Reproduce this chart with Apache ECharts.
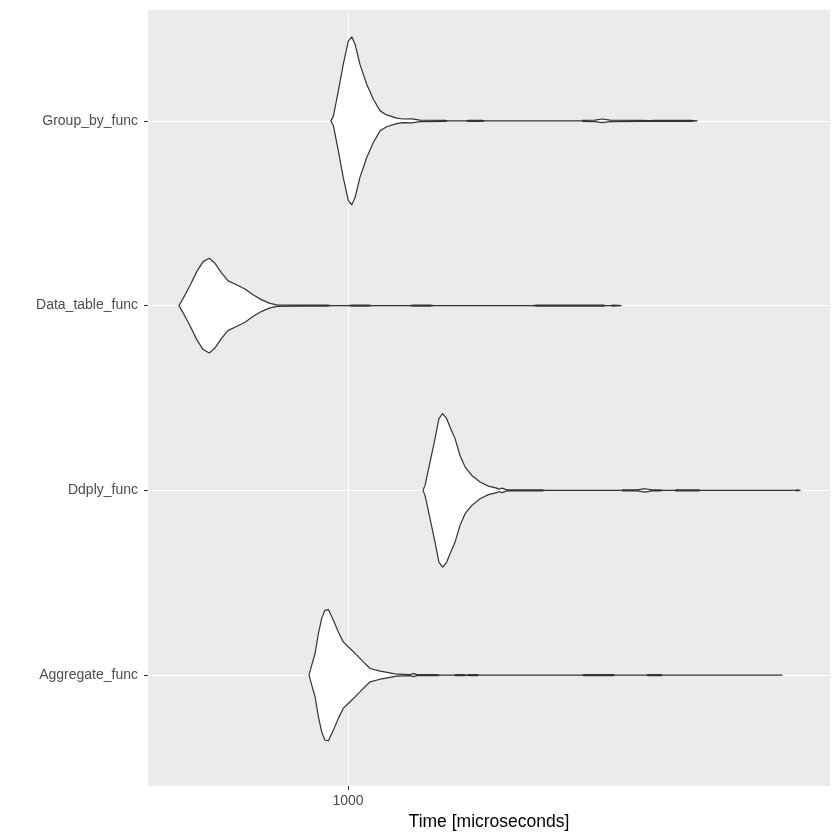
<!DOCTYPE html>
<html>
<head>
<meta charset="utf-8">
<script src="https://cdn.jsdelivr.net/npm/echarts@6/dist/echarts.min.js"></script>
<style>
  html, body { margin: 0; padding: 0; background: #fff; }
  #chart { width: 840px; height: 840px; }
</style>
</head>
<body>
<div id="chart"></div>
<script>
// categories, bottom to top (y = 1..4)
var funcNames = ['Aggregate_func', 'Ddply_func', 'Data_table_func', 'Group_by_func'];
var xTicks = [1000];

// violin outlines: time [microseconds] and half width (in category units)
var aggregateTime = [877, 885, 895, 905, 915, 925, 936, 952, 968, 984, 1007, 1030, 1053, 1077, 1114, 1152, 1178,
  1232, 1247, 1261, 1349, 1363, 1430, 1438, 1478, 1490, 1503, 1544, 1555, 2200, 2213, 2440, 2455, 2735, 2745,
  2868, 2880, 4300, 4310];
var aggregateWidth = [0, 0.054, 0.117, 0.225, 0.306, 0.351, 0.355, 0.297, 0.234, 0.180, 0.144, 0.108, 0.072, 0.036,
  0.022, 0.012, 0.005, 0.003, 0.008, 0.003, 0.003, 0.0005, 0.0005, 0.003, 0.003, 0.0005, 0.003, 0.003, 0.0005,
  0.0005, 0.003, 0.003, 0.0005, 0.0005, 0.003, 0.003, 0.0005, 0.0005, 0];

var ddplyTime = [1287, 1296, 1318, 1340, 1358, 1375, 1394, 1410, 1434, 1458, 1483, 1517, 1560, 1604, 1650, 1663,
  1679, 1708, 1922, 1941, 2510, 2524, 2646, 2718, 2783, 2859, 2888, 3005, 3017, 3249, 3282, 4520, 4533, 4580];
var ddplyWidth = [0, 0.027, 0.153, 0.279, 0.388, 0.415, 0.388, 0.342, 0.279, 0.189, 0.126, 0.081, 0.045, 0.023,
  0.012, 0.006, 0.012, 0.003, 0.003, 0.0005, 0.0005, 0.003, 0.003, 0.009, 0.003, 0.003, 0.0005, 0.0005, 0.003,
  0.003, 0.0005, 0.0005, 0.003, 0];

var dataTableTime = [566, 574, 588, 601, 614, 627, 639, 654, 668, 688, 707, 727, 748, 769, 787, 851, 932, 945,
  1000, 1014, 1070, 1085, 1230, 1245, 1318, 1335, 1860, 1889, 2111, 2360, 2380, 2420, 2440, 2507];
var dataTableWidth = [0, 0.039, 0.112, 0.184, 0.238, 0.256, 0.229, 0.175, 0.134, 0.112, 0.090, 0.058, 0.031,
  0.012, 0.004, 0.003, 0.003, 0.0005, 0.0005, 0.003, 0.003, 0.0005, 0.0005, 0.003, 0.003, 0.0005, 0.0005, 0.003,
  0.003, 0.003, 0.0005, 0.0005, 0.003, 0];

var groupByTime = [944, 952, 968, 984, 1001, 1013, 1024, 1041, 1065, 1089, 1114, 1139, 1178, 1203, 1240, 1274,
  1386, 1400, 1490, 1498, 1570, 1586, 2200, 2206, 2297, 2352, 2416, 2672, 2764, 2811, 3162, 3238];
var groupByWidth = [0, 0.027, 0.162, 0.306, 0.432, 0.454, 0.415, 0.306, 0.198, 0.117, 0.054, 0.032, 0.015, 0.010,
  0.011, 0.004, 0.003, 0.0005, 0.0005, 0.003, 0.003, 0.0005, 0.0005, 0.003, 0.004, 0.010, 0.004, 0.003, 0.001,
  0.003, 0.003, 0];

var violins = [
  { pos: 1, time: aggregateTime, width: aggregateWidth },
  { pos: 2, time: ddplyTime, width: ddplyWidth },
  { pos: 3, time: dataTableTime, width: dataTableWidth },
  { pos: 4, time: groupByTime, width: groupByWidth }
];

var chart = echarts.init(document.getElementById('chart'));

// polygon: upper edge left to right, then lower edge back
function violinSeries(v) {
  return {
    type: 'custom',
    data: [[v.pos]],
    clip: true,
    renderItem: function (params, api) {
      var pts = [];
      for (var i = 0; i < v.time.length; i++) {
        pts.push(api.coord([v.time[i], v.pos + v.width[i]]));
      }
      for (var j = v.time.length - 1; j >= 0; j--) {
        pts.push(api.coord([v.time[j], v.pos - v.width[j]]));
      }
      return {
        type: 'polygon',
        shape: { points: pts },
        style: { fill: '#ffffff', stroke: '#333333', lineWidth: 1.2, lineJoin: 'round' }
      };
    }
  };
}

var option = {
  animation: false,
  backgroundColor: '#ffffff',
  grid: {
    left: 148, right: 10, top: 10, bottom: 54,
    show: true, backgroundColor: '#EBEBEB', borderWidth: 0
  },
  xAxis: {
    type: 'log',
    logBase: 10,
    min: 510,
    max: 5066,
    name: 'Time [microseconds]',
    nameLocation: 'middle',
    nameGap: 27,
    nameTextStyle: { color: '#000000', fontSize: 17.5, fontFamily: 'Liberation Sans' },
    axisLine: { show: false },
    axisTick: { show: true, length: 4, customValues: xTicks, lineStyle: { color: '#333333', width: 1 } },
    axisLabel: {
      customValues: xTicks, margin: 8, color: '#4D4D4D', fontSize: 14, fontFamily: 'Liberation Sans',
      formatter: function (v) { return String(Math.round(v)); }
    },
    splitLine: { show: true, lineStyle: { color: '#ffffff', width: 1.1 } },
    minorSplitLine: { show: false }
  },
  yAxis: {
    type: 'value',
    min: 0.4,
    max: 4.6,
    axisLine: { show: false },
    axisTick: { show: true, length: 4, customValues: [1, 2, 3, 4], lineStyle: { color: '#333333', width: 1 } },
    axisLabel: {
      customValues: [1, 2, 3, 4], margin: 10, color: '#4D4D4D', fontSize: 14, fontFamily: 'Liberation Sans',
      formatter: function (v) { return funcNames[Math.round(v) - 1] || ''; }
    },
    splitLine: { show: true, lineStyle: { color: '#ffffff', width: 1.1 } }
  },
  series: violins.map(violinSeries)
};

chart.setOption(option);
</script>
</body>
</html>
